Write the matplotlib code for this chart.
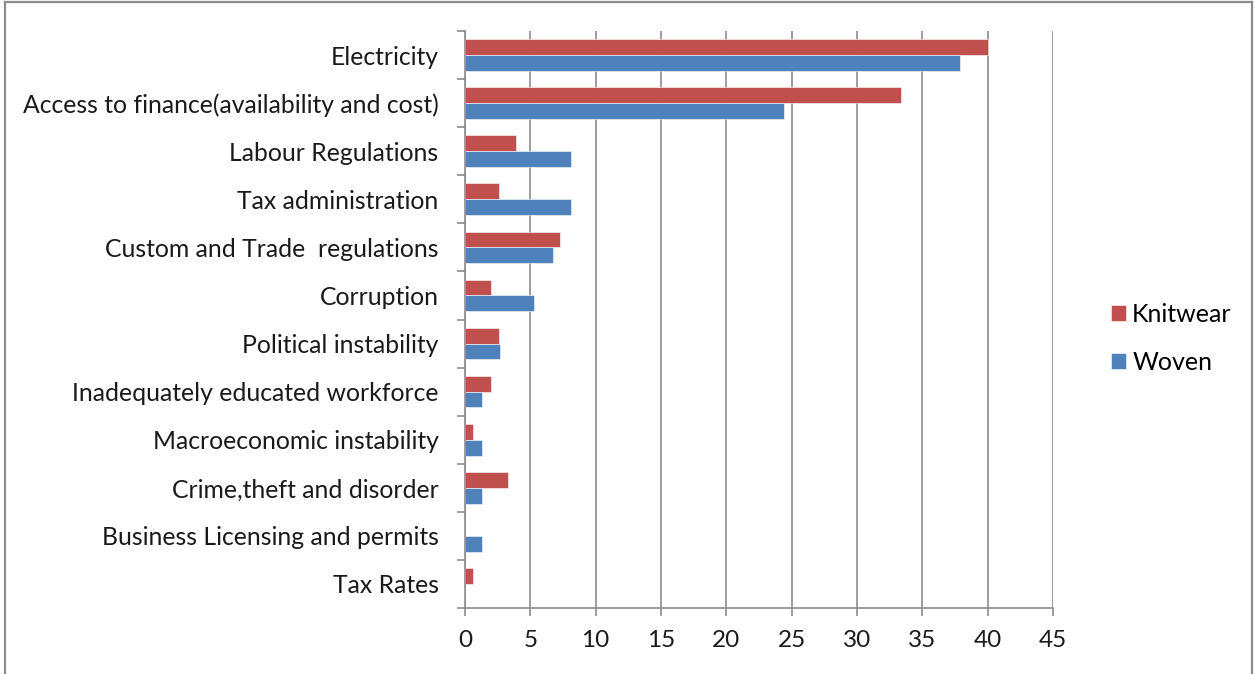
import matplotlib.pyplot as plt
import numpy as np
from matplotlib.lines import Line2D

categories = [
    "Electricity",
    "Access to finance(availability and cost)",
    "Labour Regulations",
    "Tax administration",
    "Custom and Trade  regulations",
    "Corruption",
    "Political instability",
    "Inadequately educated workforce",
    "Macroeconomic instability",
    "Crime,theft and disorder",
    "Business Licensing and permits",
    "Tax Rates",
]
knitwear = [40.0, 33.4, 3.9, 2.6, 7.3, 2.0, 2.6, 2.0, 0.6, 3.3, 0.0, 0.6]
woven = [37.9, 24.4, 8.1, 8.1, 6.7, 5.3, 2.7, 1.3, 1.3, 1.3, 1.3, 0.0]

plt.rcParams['font.family'] = ['Lato', 'DejaVu Sans']

fig = plt.figure(figsize=(12.55, 6.74), dpi=100)
ax = fig.add_axes([465 / 1255, 1 - 608 / 674, 588 / 1255, 577 / 674])

y = np.arange(len(categories))
h = 0.33
ax.barh(y - h / 2, knitwear, height=h, color='#C0504D', label='Knitwear',
        edgecolor='white', linewidth=0.4)
ax.barh(y + h / 2, woven, height=h, color='#4F81BD', label='Woven',
        edgecolor='white', linewidth=0.4)

ax.set_ylim(len(categories) - 0.5, -0.5)
ax.set_xlim(0, 45)
ax.set_xticks(range(0, 46, 5))
ax.set_yticks(y)
ax.set_yticklabels(categories, fontsize=17.8, color='#1a1a1a')
ax.tick_params(axis='y', length=0, pad=19)
ax.set_yticks(np.arange(-0.5, len(categories), 1), minor=True)
ax.tick_params(axis='y', which='minor', length=6, color='#8c8c8c', width=1.2)
ax.tick_params(axis='x', length=6, color='#8c8c8c', width=1.2, labelsize=17.5,
               labelcolor='#1a1a1a', pad=10)

ax.grid(axis='x', color='#8c8c8c', linewidth=1.2)
ax.set_axisbelow(True)
for s in ['top', 'right']:
    ax.spines[s].set_visible(False)
for s in ['left', 'bottom']:
    ax.spines[s].set_color('#8c8c8c')
    ax.spines[s].set_linewidth(1.2)

ax.legend(loc='center left', bbox_to_anchor=(1101 / 1255, 1 - 338 / 674),
          bbox_transform=fig.transFigure, frameon=False, fontsize=18,
          handlelength=0.6, handleheight=0.6, handletextpad=0.25,
          labelspacing=1.0, borderaxespad=0)

# outer chart border (no bottom edge visible)
W, H = 1255, 674
fig.add_artist(Line2D([5 / W, 5 / W], [0, 1 - 2 / H], color='#8c8c8c', lw=1.6))
fig.add_artist(Line2D([5 / W, 1252 / W], [1 - 2 / H, 1 - 2 / H], color='#8c8c8c', lw=1.6))
fig.add_artist(Line2D([1252 / W, 1252 / W], [0, 1 - 2 / H], color='#8c8c8c', lw=1.6))

fig.savefig('out.png', dpi=100)
